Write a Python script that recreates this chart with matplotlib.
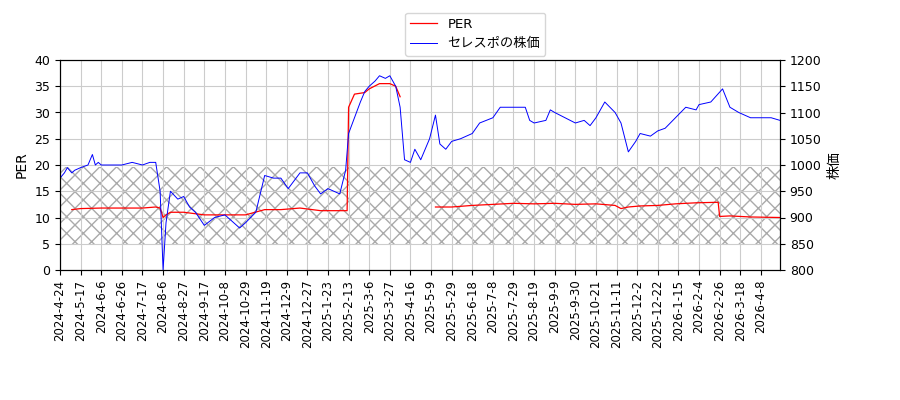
import matplotlib
matplotlib.use("Agg")
import matplotlib.pyplot as plt
import numpy as np

plt.rcParams['font.family'] = ['DejaVu Sans', 'Noto Sans CJK JP']

tick_labels = ["2024-4-24","2024-5-17","2024-6-6","2024-6-26","2024-7-17","2024-8-6","2024-8-27",
"2024-9-17","2024-10-8","2024-10-29","2024-11-19","2024-12-9","2024-12-27","2025-1-23","2025-2-13",
"2025-3-6","2025-3-27","2025-4-16","2025-5-9","2025-5-29","2025-6-18","2025-7-8","2025-7-29",
"2025-8-19","2025-9-9","2025-9-30","2025-10-21","2025-11-11","2025-12-2","2025-12-22","2026-1-15",
"2026-2-4","2026-2-26","2026-3-18","2026-4-8"]

price_days = [0,3,5,8,10,14,19,22,24,26,
              28,34,42,49,56,61,65,68,70,72,
              75,80,84,88,92,98,105,112,118,122,
              126,133,139,145,150,155,163,168,173,177,
              182,190,194,196,200,204,207,210,214,217,
              221,224,228,231,234,238,241,245,251,255,
              258,262,266,272,280,285,294,299,308,316,
              319,322,330,333,336,343,350,356,360,364,
              370,377,381,386,391,394,401,406,411,418,
              425,432,434,442,450,455,461,469,476,483,
              489]
price = [975,985,995,985,990,995,1000,1020,1000,1005,
         1000,1000,1000,1005,1000,1005,1005,950,800,890,
         950,935,940,920,910,885,900,905,890,880,
         890,910,980,975,975,955,985,985,960,945,
         955,945,990,1060,1090,1120,1140,1150,1160,1170,
         1165,1170,1150,1110,1010,1005,1030,1010,1050,1095,
         1040,1030,1045,1050,1060,1080,1090,1110,1110,1110,
         1085,1080,1085,1105,1100,1090,1080,1085,1075,1090,
         1120,1100,1080,1025,1045,1060,1055,1065,1070,1090,
         1110,1105,1115,1120,1145,1110,1100,1090,1090,1090,
         1085]

per_days = [8,14,28,42,56,65,68,70,72,75,
            84,98,112,126,139,150,163,177,190,195,
            196,200,207,210,217,224,228,231,
            255,266,280,294,308,322,336,350,364,377,
            381,386,394,406,418,432,447,448,455,469,
            489]
per = [11.5,11.7,11.8,11.8,11.8,12.0,11.8,10.0,10.5,11.0,
       11.0,10.5,10.5,10.5,11.5,11.5,11.8,11.3,11.3,11.3,
       31.0,33.5,33.8,34.5,35.5,35.5,35.0,33.0,
       12.0,12.0,12.3,12.5,12.7,12.6,12.7,12.5,12.6,12.3,
       11.7,12.0,12.2,12.3,12.6,12.8,12.9,10.2,10.3,10.1,
       10.0]

fig, ax = plt.subplots(figsize=(9, 4), dpi=100)
fig.subplots_adjust(left=60/900, right=780/900, bottom=1-270/400, top=1-60/400)

ax.axhspan(5, 19.6, facecolor='none', edgecolor='#aaaaaa', hatch='xx', linewidth=0)
pd_arr = np.array(per_days, float); pv = np.array(per, float)
seg = int(np.searchsorted(pd_arr, 255))
lp, = ax.plot(pd_arr[:seg], pv[:seg], color='red', lw=0.9, label='PER')
ax.plot(pd_arr[seg:], pv[seg:], color='red', lw=0.9)
ax.set_ylim(0, 40)
ax.set_xlim(0, 489)
ax.set_ylabel('PER')
ax.set_xticks(np.arange(len(tick_labels)) * 14)
ax.set_xticklabels(tick_labels, rotation=90, fontsize=8.5)
ax.tick_params(axis='y', labelsize=9)
ax.grid(True, color='#cccccc', lw=0.8)

ax2 = ax.twinx()
lb, = ax2.plot(price_days, price, color='blue', lw=0.7, label='セレスポの株価')
ax2.set_ylim(800, 1200)
ax2.set_ylabel('株価')
ax2.tick_params(axis='y', labelsize=9)

fig.legend(handles=[lp, lb], loc='upper center', bbox_to_anchor=(0.528, 0.985), fontsize=9.5)
fig.savefig('out.png')
